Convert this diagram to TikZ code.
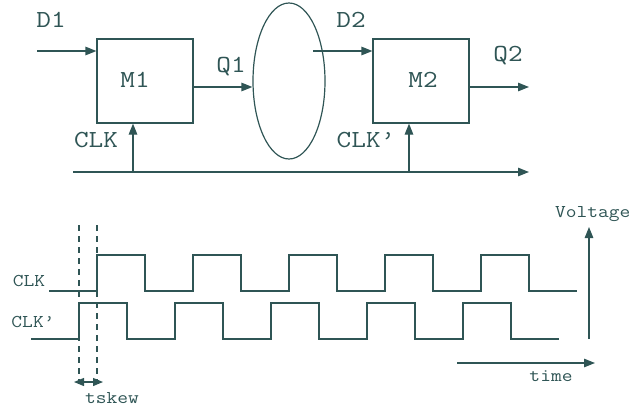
\documentclass[tikz,border=0pt]{standalone}
\usepackage{fontspec}
\setmonofont{Latin Modern Mono}[FakeStretch=1.16]
\usetikzlibrary{arrows.meta,shapes.geometric}
\definecolor{ink}{RGB}{47,85,85}
\begin{document}
\begin{tikzpicture}[x=1pt,y=-1pt, line width=1.2pt, draw=ink,
 arr/.style={-{Triangle[length=11pt,width=8.5pt]}},
 dim/.style={{Triangle[length=10pt,width=8pt]}-{Triangle[length=10pt,width=8pt]}},
 big/.style={font=\ttfamily\fontsize{24.5}{24.5}\selectfont, text=ink, inner sep=0},
 small/.style={font=\ttfamily\fontsize{18}{18}\selectfont, text=ink, inner sep=0},
 box/.style={draw=ink, minimum width=96pt, minimum height=84pt, inner sep=0},
 wave/.style={draw=ink, line width=1.2pt},
 guide/.style={draw=ink, dash pattern=on 6pt off 5pt}]
\useasboundingbox (0,0) rectangle (632,410);

% top: blocks
\node[box] (m1) at (145,81) {};
\node[box] (m2) at (421,81) {};
\node[draw=ink, ellipse, minimum width=72pt, minimum height=156pt, inner sep=0] (el) at (289,81) {};

\node[big] (lm1) at (135,80) {M1};
\node[big] (lm2) at (423,80) {M2};
\node[big] (ld1) at (51,20) {D1};
\node[big] (ld2) at (351,20) {D2};
\node[big] (lq1) at (231,67) {Q1};
\node[big] (lq2) at (508,56) {Q2};
\node[big] (lclk) at (96,140) {CLK};
\node[big] (lclkp) at (366,140) {CLK’};

\coordinate (d1s) at (37,51);
\coordinate (d2s) at (313,51);
\coordinate (q1s) at (193,87);
\coordinate (q2e) at (529,87);
\coordinate (cks) at (73,172);
\coordinate (cke) at (529,172);
\coordinate (c1) at (133,172);
\coordinate (c2) at (409,172);

\draw[arr, draw=ink, fill=ink] (d1s) -- (d1s -| m1.west);
\draw[arr, draw=ink, fill=ink] (d2s) -- (d2s -| m2.west);
\draw[arr, draw=ink, fill=ink] (q1s) -- (q1s -| el.west);
\draw[arr, draw=ink, fill=ink] (q2e -| m2.east) -- (q2e);
\draw[arr, draw=ink, fill=ink] (cks) -- (cke);
\draw[arr, draw=ink, fill=ink] (c1) -- (c1 |- m1.south);
\draw[arr, draw=ink, fill=ink] (c2) -- (c2 |- m2.south);

% bottom: timing diagram
\draw[wave] (49,291) -| (97,255) -| (145,291) -| (193,255) -| (241,291) -| (289,255) -| (337,291) -| (385,255) -| (433,291) -| (481,255) -| (529,291) -- (577,291);
\draw[wave] (31,339) -| (79,303) -| (127,339) -| (175,303) -| (223,339) -| (271,303) -| (319,339) -| (367,303) -| (415,339) -| (463,303) -| (511,339) -- (559,339);

\coordinate (g1t) at (79,225);
\coordinate (g1b) at (79,382);
\coordinate (g2t) at (97,225);
\coordinate (g2b) at (97,382);
\draw[guide] (g1t) -- (g1b);
\draw[guide] (g2t) -- (g2b);
\coordinate (sk1) at (74,382);
\coordinate (sk2) at (103,382);
\draw[dim, draw=ink, fill=ink] (sk1) -- (sk2);

\node[small] (bclk) at (29,281) {CLK};
\node[small] (bclkp) at (33,322) {CLK’};
\node[small] (tsk) at (112,398) {tskew};

\coordinate (vb) at (589,339);
\coordinate (vt) at (589,227);
\draw[arr, draw=ink, fill=ink] (vb) -- (vt);
\node[small, anchor=east] (volt) at (631,214) {Voltage};

\coordinate (ts) at (457,363);
\coordinate (te) at (595,363);
\draw[arr, draw=ink, fill=ink] (ts) -- (te);
\node[small] (tm) at (551,376) {time};
\end{tikzpicture}
\end{document}
